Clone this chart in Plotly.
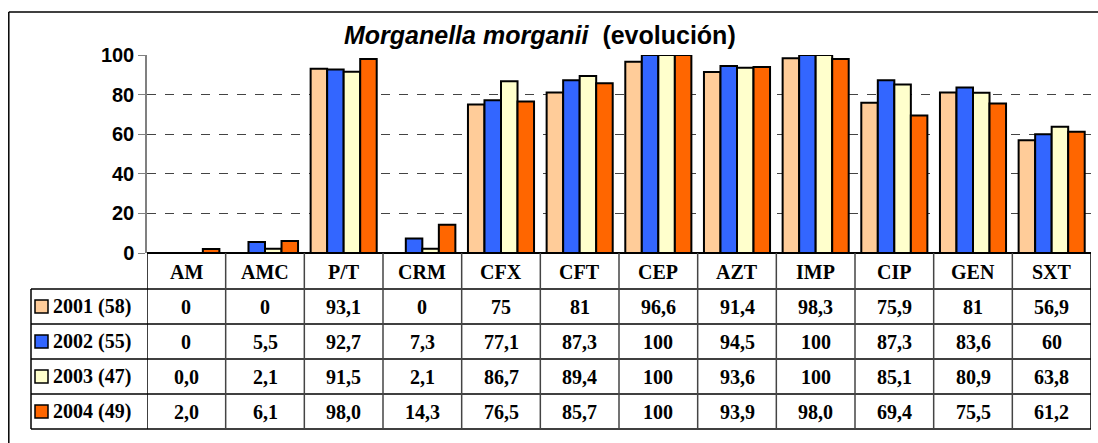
import plotly.graph_objects as go

categories = ["AM", "AMC", "P/T", "CRM", "CFX", "CFT", "CEP", "AZT", "IMP", "CIP", "GEN", "SXT"]
series_names = ["2001 (58)", "2002 (55)", "2003 (47)", "2004 (49)"]
labels_2001 = ["0", "0", "93,1", "0", "75", "81", "96,6", "91,4", "98,3", "75,9", "81", "56,9"]
labels_2002 = ["0", "5,5", "92,7", "7,3", "77,1", "87,3", "100", "94,5", "100", "87,3", "83,6", "60"]
labels_2003 = ["0,0", "2,1", "91,5", "2,1", "86,7", "89,4", "100", "93,6", "100", "85,1", "80,9", "63,8"]
labels_2004 = ["2,0", "6,1", "98,0", "14,3", "76,5", "85,7", "100", "93,9", "98,0", "69,4", "75,5", "61,2"]
colours = ["#FFCC99", "#3366FF", "#FFFFCC", "#FF6600"]
y_ticks = [0, 20, 40, 60, 80, 100]

all_labels = [labels_2001, labels_2002, labels_2003, labels_2004]

W, H = 1098, 443
L, R, T, B = 147, 7, 55, 190
pw, ph = W - L - R, H - T - B


def py(pix):
    # pixel row -> paper y
    return (H - B - pix) / ph


def px(pix):
    return (pix - L) / pw


fig = go.Figure()
for name, labels, colour in zip(series_names, all_labels, colours):
    fig.add_trace(go.Bar(
        x=categories,
        y=[float(s.replace(",", ".")) for s in labels],
        name=name,
        marker=dict(color=colour, line=dict(color="black", width=2)),
        hoverinfo="skip",
    ))

shapes = []
# outer frame (only top and left edges are inside the picture)
frame = dict(color="black", width=1.5)
shapes.append(dict(type="line", xref="paper", yref="paper",
                   x0=px(8.8), x1=px(1098), y0=py(12), y1=py(12), line=frame))
shapes.append(dict(type="line", xref="paper", yref="paper",
                   x0=px(8.8), x1=px(8.8), y0=py(12), y1=py(443), line=frame))
# table horizontal lines
row_edges = [289, 324, 359, 394, 429]
for r in row_edges:
    shapes.append(dict(type="line", xref="paper", yref="paper",
                       x0=px(31), x1=1, y0=py(r), y1=py(r),
                       line=dict(color="black", width=1.5)))
# table vertical lines
for i in range(len(categories) + 1):
    inner = 0 < i < len(categories)
    shapes.append(dict(type="line", xref="x", yref="paper",
                       x0=i - 0.5, x1=i - 0.5, y0=0, y1=py(429),
                       line=dict(color="#444444" if inner else "black", width=1.5)))
shapes.append(dict(type="line", xref="paper", yref="paper",
                   x0=px(31), x1=px(31), y0=py(289), y1=py(429),
                   line=dict(color="black", width=1.5)))

annotations = []
serif = dict(family="Liberation Serif, Times New Roman, serif", size=20,
             color="black", weight="bold")
for c in categories:
    annotations.append(dict(x=c, y=py(271.5), xref="x", yref="paper",
                            xanchor="center", yanchor="middle",
                            text=c, showarrow=False, font=serif))
row_centres = [306.5, 341.5, 376.5, 411.5]
for name, labels, colour, rc in zip(series_names, all_labels, colours, row_centres):
    for c, s in zip(categories, labels):
        annotations.append(dict(x=c, y=py(rc), xref="x", yref="paper",
                                xanchor="center", yanchor="middle",
                                text=s, showarrow=False, font=serif))
    annotations.append(dict(x=px(51), y=py(rc), xref="paper", yref="paper",
                            xanchor="left", yanchor="middle", text=name,
                            showarrow=False, font=serif))
    shapes.append(dict(type="rect", xref="paper", yref="paper",
                       x0=px(35), x1=px(48), y0=py(rc - 6.5), y1=py(rc + 6.5),
                       fillcolor=colour, line=dict(color="black", width=1.5)))

# title
annotations.append(dict(
    x=px(540), y=py(35), xref="paper", yref="paper",
    xanchor="center", yanchor="middle", showarrow=False,
    text="<i>Morganella morganii</i>  (evolución)",
    font=dict(family="Liberation Sans, Arial, sans-serif", size=25,
              color="black", weight="bold"),
))

fig.update_layout(
    width=W, height=H,
    margin=dict(l=L, r=R, t=T, b=B),
    paper_bgcolor="white",
    plot_bgcolor="white",
    showlegend=False,
    barmode="group",
    bargap=0.16,
    bargroupgap=0,
    font=dict(family="Liberation Sans, Arial, sans-serif", color="black"),
    xaxis=dict(showticklabels=False, showgrid=False, zeroline=False,
               showline=False, range=[-0.5, len(categories) - 0.5]),
    yaxis=dict(range=[0, 100], tickvals=y_ticks, showgrid=True,
               gridcolor="#444444", griddash="dash", gridwidth=1,
               zeroline=True, zerolinecolor="black", zerolinewidth=1.5,
               showline=True, linecolor="#808080", linewidth=1.5,
               ticks="outside", ticklen=7, tickcolor="#808080",
               tickfont=dict(size=20, color="black", weight="bold",
                             family="Liberation Sans, Arial, sans-serif")),
    shapes=shapes,
    annotations=annotations,
)

# drop the page's default body margin so the figure fills the window exactly
fig.write_html(
    "out.html",
    config={"displayModeBar": False},
    post_script="document.body.style.margin='0';document.body.style.overflow='hidden';",
)
